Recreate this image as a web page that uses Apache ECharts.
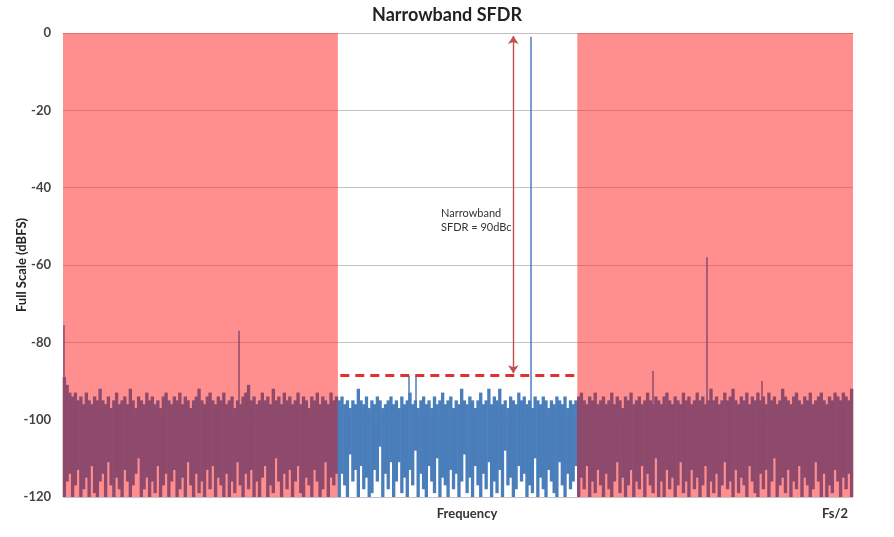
<!DOCTYPE html>
<html>
<head>
<meta charset="utf-8">
<script src="https://cdn.jsdelivr.net/npm/echarts@6/dist/echarts.min.js"></script>
<style>
  html, body { margin: 0; padding: 0; background: #fff; }
  #main { width: 894px; height: 537px; }
</style>
</head>
<body>
<div id="main"></div>
<script>
// frequency runs 0..1000 (Fs/2 = 1000)
const bands = [[0, 348], [651, 1000]]; // shaded (out-of-band) regions
const yTicks = [0, -20, -40, -60, -80, -100, -120];

// noise floor: top / bottom of each bin per region
const leftUp = [
  -89, -91, -93, -94, -93, -95, -94, -96, -93, -95,
  -96, -94, -95, -92, -95, -96, -94, -97, -95, -93,
  -96, -95, -94, -96, -92, -95, -97, -94, -95, -96,
  -93, -95, -94, -96, -95, -97, -94, -93, -95, -96,
  -94, -95, -93, -96, -94, -95, -97, -95, -94, -92,
  -95, -96, -94, -93, -95, -96, -94, -95, -93, -96,
  -95, -94, -97, -95, -96, -94, -93, -91, -95, -94,
  -96, -95, -93, -95, -94, -96, -92, -95, -94, -96,
  -93, -95, -94, -96, -95, -93, -96, -94, -95, -97,
  -94, -95, -93, -96, -94, -95, -96, -93, -95, -94
];
const leftLow = [
  -120, -116, -114, -120, -117, -113, -120, -118, -115, -120,
  -112, -119, -120, -116, -114, -120, -111, -117, -120, -115,
  -118, -120, -113, -116, -120, -117, -114, -110, -120, -118,
  -115, -120, -116, -119, -112, -120, -117, -114, -120, -116,
  -113, -120, -118, -115, -120, -111, -117, -120, -114, -119,
  -116, -120, -113, -118, -112, -120, -115, -117, -120, -114,
  -120, -116, -119, -111, -117, -120, -114, -118, -113, -120,
  -116, -120, -115, -112, -120, -117, -119, -110, -116, -120,
  -114, -118, -113, -120, -116, -112, -119, -120, -115, -117,
  -120, -113, -116, -120, -118, -111, -120, -115, -117, -114
];
const midUp = [
  -95, -94, -96, -95, -97, -95, -96, -92, -95, -96,
  -94, -97, -95, -96, -94, -95, -97, -96, -95, -94,
  -96, -95, -97, -94, -96, -95, -93, -96, -95, -97,
  -95, -94, -96, -95, -97, -94, -96, -95, -93, -96,
  -95, -94, -97, -95, -96, -92, -95, -96, -94, -95,
  -97, -95, -93, -96, -95, -92, -96, -94, -95, -92,
  -96, -95, -97, -94, -95, -96, -93, -95, -94, -96,
  -95, -97, -94, -95, -96, -94, -95, -97, -95, -96,
  -94, -95, -96, -94, -97, -95, -96, -95
];
const midLow = [
  -120, -114, -117, -120, -109, -116, -113, -120, -112, -118,
  -115, -120, -119, -113, -116, -107, -120, -114, -118, -111,
  -120, -116, -111, -119, -115, -120, -113, -117, -108, -120,
  -114, -118, -120, -112, -116, -119, -110, -120, -115, -117,
  -120, -113, -118, -114, -120, -116, -109, -119, -115, -120,
  -112, -117, -120, -114, -118, -111, -120, -116, -119, -113,
  -120, -108, -117, -115, -120, -118, -112, -116, -114, -120,
  -117, -119, -110, -120, -115, -118, -120, -113, -116, -119,
  -120, -111, -117, -120, -114, -118, -116, -112
];
const rightUp = [
  -94, -93, -95, -96, -94, -95, -93, -96, -95, -94,
  -96, -95, -93, -96, -94, -95, -97, -94, -95, -93,
  -96, -95, -94, -96, -95, -93, -95, -96, -94, -95,
  -96, -94, -93, -95, -96, -94, -95, -96, -93, -95,
  -94, -96, -95, -93, -95, -94, -96, -95, -92, -95,
  -94, -96, -95, -93, -95, -94, -92, -95, -96, -94,
  -95, -93, -96, -94, -95, -93, -95, -94, -96, -93,
  -95, -94, -96, -95, -92, -94, -95, -96, -94, -93,
  -95, -96, -94, -95, -93, -96, -95, -94, -93, -95,
  -96, -94, -95, -93, -94, -95, -93, -94, -95, -92
];
const rightLow = [
  -120, -115, -118, -112, -120, -116, -119, -113, -117, -120,
  -114, -118, -120, -116, -111, -119, -115, -120, -117, -113,
  -120, -116, -118, -112, -120, -114, -117, -119, -110, -120,
  -116, -120, -113, -118, -115, -120, -117, -111, -119, -116,
  -120, -113, -118, -115, -120, -117, -112, -120, -116, -119,
  -114, -120, -117, -111, -118, -116, -120, -113, -119, -115,
  -117, -120, -112, -116, -119, -120, -114, -118, -113, -120,
  -116, -110, -120, -117, -115, -119, -113, -120, -116, -118,
  -112, -120, -115, -117, -120, -118, -111, -116, -120, -114,
  -120, -117, -119, -113, -116, -120, -115, -118, -114, -120
];

// spurs: frequency and peak level
const leftSpurX = [0.5, 223];
const leftSpurTop = [-75.5, -77];
const midSpurX = [438, 447, 592];
const midSpurTop = [-88.7, -88.5, -1];
const rightSpurX = [747, 815, 885];
const rightSpurTop = [-87.4, -58, -90];

const sfdrLevel = -88.5;
const sfdrFrom = 351, sfdrTo = 648, arrowX = 570;

const BLUE = '#4a7ebb';
const PURPLE = '#8e4a6c';
const FONT = 'Lato';

function spurLines(xs, tops) {
  return xs.map((x, i) => [{ coord: [x, -97] }, { coord: [x, tops[i]] }]);
}

// one column per bin, from its bottom to its top
function noiseSeries(x0, x1, up, low, color, spurX, spurTop) {
  const step = (x1 - x0) / up.length;
  const data = up.map((v, i) => [x0 + (i + 0.5) * step, low[i], v]);
  return {
    type: 'custom',
    data,
    z: 3,
    silent: true,
    animation: false,
    encode: { x: 0, y: [1, 2] },
    renderItem(params, api) {
      const x = api.value(0);
      const top = api.coord([x, api.value(2)]);
      const bot = api.coord([x, api.value(1)]);
      const w = api.size([step, 0])[0];
      return {
        type: 'rect',
        shape: { x: top[0] - w / 2 - 0.3, y: top[1], width: w + 0.6, height: bot[1] - top[1] },
        style: { fill: color }
      };
    },
    markLine: {
      silent: true,
      symbol: 'none',
      animation: false,
      label: { show: false },
      lineStyle: { color, width: 1.5, type: 'solid' },
      data: spurLines(spurX, spurTop)
    }
  };
}

const chart = echarts.init(document.getElementById('main'));
chart.setOption({
  animation: false,
  backgroundColor: '#fff',
  title: {
    text: 'Narrowband SFDR',
    left: 'center',
    top: 1,
    textStyle: { fontFamily: FONT, fontWeight: 'bold', fontSize: 18, color: '#222' }
  },
  grid: { left: 63, right: 41, top: 33, bottom: 40, outerBoundsMode: 'none', containLabel: false },
  xAxis: {
    type: 'value',
    min: 0,
    max: 1000,
    name: 'Frequency',
    nameLocation: 'middle',
    nameGap: 10,
    nameMoveOverlap: false,
    nameTextStyle: { fontFamily: FONT, fontWeight: 'bold', fontSize: 13, color: '#333', padding: [0, 0, 0, 18] },
    axisLine: { show: true, lineStyle: { color: '#bfbfbf' } },
    axisTick: { show: false },
    splitLine: { show: false },
    axisLabel: {
      margin: 10,
      align: 'right',
      padding: [0, 5, 0, 0],
      fontFamily: FONT,
      fontWeight: 'bold',
      fontSize: 13,
      color: '#333',
      formatter: v => (v === 1000 ? 'Fs/2' : '')
    }
  },
  yAxis: {
    type: 'value',
    min: -120,
    max: 0,
    interval: 20,
    name: 'Full Scale (dBFS)',
    nameLocation: 'middle',
    nameGap: 35,
    nameMoveOverlap: false,
    nameTextStyle: { fontFamily: FONT, fontWeight: 'bold', fontSize: 13, color: '#222' },
    axisLine: { show: false },
    axisTick: { show: false },
    axisLabel: {
      margin: 12,
      fontFamily: FONT,
      fontWeight: 'bold',
      fontSize: 13,
      color: '#444',
      formatter: v => (yTicks.includes(v) ? String(v) : '')
    },
    splitLine: { lineStyle: { color: '#c4c4c4', width: 1 } }
  },
  graphic: [{
    type: 'text',
    left: 441,
    top: 206,
    style: {
      text: 'Narrowband\nSFDR = 90dBc',
      fontFamily: FONT,
      fontSize: 11,
      lineHeight: 14,
      fill: '#333',
      align: 'center'
    }
  }],
  series: [
    {
      type: 'line',
      data: [],
      z: 1,
      silent: true,
      markArea: {
        silent: true,
        itemStyle: { color: 'rgba(255,40,40,0.52)' },
        data: bands.map(b => [{ xAxis: b[0] }, { xAxis: b[1] }])
      }
    },
    noiseSeries(0, bands[0][1], leftUp, leftLow, PURPLE, leftSpurX, leftSpurTop),
    noiseSeries(bands[0][1], bands[1][0], midUp, midLow, BLUE, midSpurX, midSpurTop),
    noiseSeries(bands[1][0], bands[1][1], rightUp, rightLow, PURPLE, rightSpurX, rightSpurTop),
    {
      type: 'line',
      data: [],
      z: 6,
      markLine: {
        silent: true,
        animation: false,
        label: { show: false },
        data: [
          [
            { coord: [sfdrFrom, sfdrLevel], symbol: 'none', lineStyle: { color: '#e03030', width: 3, type: [9, 6] } },
            { coord: [sfdrTo, sfdrLevel], symbol: 'none' }
          ],
          [
            { coord: [arrowX, sfdrLevel + 0.5], symbol: 'arrow', symbolSize: 8, lineStyle: { color: '#c0504d', width: 1.4, type: 'solid' } },
            { coord: [arrowX, -0.8], symbol: 'arrow', symbolSize: 8 }
          ]
        ]
      }
    }
  ]
});
</script>
</body>
</html>
